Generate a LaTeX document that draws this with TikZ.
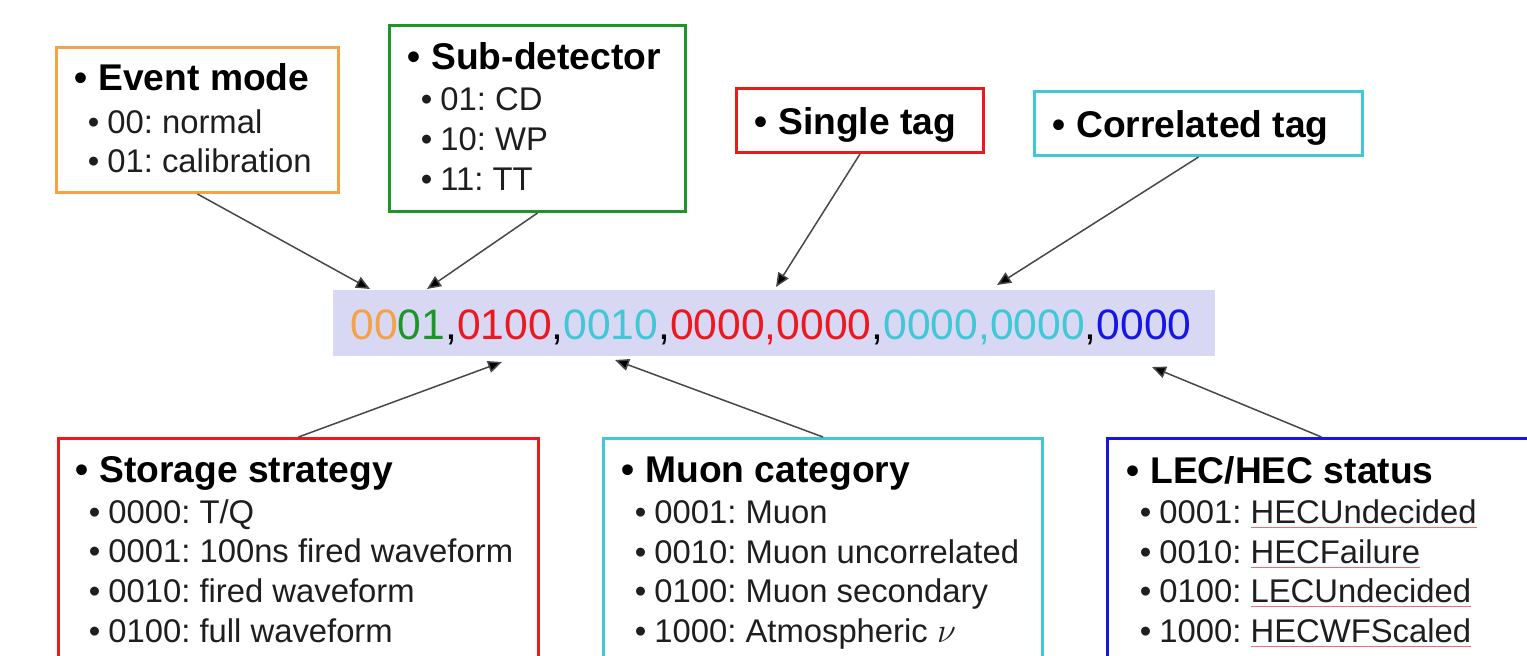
\documentclass[tikz,border=0pt]{standalone}
\usepackage{fontspec}
\setmainfont{Liberation Sans}
\usetikzlibrary{arrows.meta,calc}

\definecolor{evorange}{RGB}{242,162,72}
\definecolor{detgreen}{RGB}{28,150,40}
\definecolor{tagred}{RGB}{236,24,32}
\definecolor{tagcyan}{RGB}{64,200,214}
\definecolor{lecblue}{RGB}{22,22,228}
\definecolor{bandfill}{RGB}{216,216,244}
\definecolor{ink}{RGB}{30,30,30}
\definecolor{spellred}{RGB}{238,110,110}

\frenchspacing
% bullet lines: the bullet hangs to the left of the text start
\newcommand{\ttlline}[1]{\llap{\textbullet\hspace{5.5pt}}#1}
\newcommand{\itmline}[1]{\llap{\textbullet\hspace{4pt}}#1}
% thin red underline under a flagged word
\newcommand{\spellmark}[1]{\setbox0\hbox{#1}%
  \rlap{\textcolor{spellred}{\rule[-2.6pt]{\wd0}{0.6pt}}}\box0}

\begin{document}
\begin{tikzpicture}[x=0.5pt,y=-0.5pt,
  frame/.style={draw=#1, line width=1.5pt, fill=white, inner sep=0pt,
                anchor=north west},
  ttl/.style={anchor=base west, inner sep=0pt,
              font=\fontsize{18.6}{22}\selectfont\bfseries, text=black},
  itm/.style={anchor=base west, inner sep=0pt,
              font=\fontsize{16.4}{20}\selectfont, text=ink},
  link/.style={draw=black!72, line width=0.75pt,
               -{Triangle[length=7pt,width=6pt,fill=black]}},
  bits/.style={anchor=base west, inner sep=0pt,
               font=\fontsize{21.3}{24}\selectfont}]

\useasboundingbox (0,0) rectangle (1527,655);
\clip (0,0) rectangle (1527,655);
\fill[white] (0,0) rectangle (1527,655);

% ---- the code word ----
\node[fill=bandfill, inner sep=0pt, minimum width=441pt, minimum height=33pt,
      anchor=north west] (band) at (333,290) {};
\node[bits] (code) at (350,339) {%
  \textcolor{evorange}{00}\textcolor{detgreen}{01},%
  \textcolor{tagred}{0100},%
  \textcolor{tagcyan}{0010},%
  \textcolor{tagred}{0000,0000},%
  \textcolor{tagcyan}{0000,0000},%
  \textcolor{lecblue}{0000}};

% ---- upper boxes ----
\node[frame=evorange, minimum width=141pt, minimum height=72.5pt] (ev) at (55,46) {};
\node[ttl] (ev-t) at (98,90) {\ttlline{Event mode}};
\node[itm] (ev-1) at (107,133) {\itmline{00: normal}};
\node[itm] (ev-2) at (107,172) {\itmline{01: calibration}};

\node[frame=detgreen, minimum width=148pt, minimum height=93pt] (det) at (388,24) {};
\node[ttl] (det-t) at (431,69) {\ttlline{Sub-detector}};
\node[itm] (det-1) at (440,110) {\itmline{01: CD}};
\node[itm] (det-2) at (440,150) {\itmline{10: WP}};
\node[itm] (det-3) at (440,190) {\itmline{11: TT}};

\node[frame=tagred, minimum width=123.5pt, minimum height=32pt] (single) at (735,87) {};
\node[ttl] (single-t) at (778,134) {\ttlline{Single tag}};

\node[frame=tagcyan, minimum width=164pt, minimum height=32pt] (corr) at (1033,90) {};
\node[ttl] (corr-t) at (1076,137) {\ttlline{Correlated tag}};

% ---- lower boxes (running past the lower edge) ----
\node[frame=tagred, minimum width=240pt, minimum height=125pt] (stor) at (57,437) {};
\node[ttl] (stor-t) at (99,482) {\ttlline{Storage strategy}};
\node[itm] (stor-1) at (108,523) {\itmline{0000: T/Q}};
\node[itm] (stor-2) at (108,562) {\itmline{0001: 100ns fired waveform}};
\node[itm] (stor-3) at (108,602) {\itmline{0010: fired waveform}};
\node[itm] (stor-4) at (108,642) {\itmline{0100: full waveform}};

\node[frame=tagcyan, minimum width=219.5pt, minimum height=125pt] (muon) at (602,437) {};
\node[ttl] (muon-t) at (645,482) {\ttlline{Muon category}};
\node[itm] (muon-1) at (654,523) {\itmline{0001: Muon}};
\node[itm] (muon-2) at (654,563) {\itmline{0010: Muon uncorrelated}};
\node[itm] (muon-3) at (654,602) {\itmline{0100: Muon secondary}};
\node[itm] (muon-4) at (654,642) {\itmline{1000: Atmospheric $\nu$}};

\node[frame=lecblue, minimum width=214pt, minimum height=125pt] (lec) at (1106,437) {};
\node[ttl] (lec-t) at (1150,483) {\ttlline{LEC/HEC status}};
\node[itm] (lec-1) at (1159,523) {\itmline{0001: \spellmark{HECUndecided}}};
\node[itm] (lec-2) at (1159,563) {\itmline{0010: \spellmark{HECFailure}}};
\node[itm] (lec-3) at (1159,602) {\itmline{0100: \spellmark{LECUndecided}}};
\node[itm] (lec-4) at (1159,642) {\itmline{1000: \spellmark{HECWFScaled}}};

% ---- arrow targets on the code word ----
\coordinate (to-ev)     at (370,289);
\coordinate (to-det)    at (427,289);
\coordinate (to-single) at (776,287);
\coordinate (to-corr)   at (997,285);
\coordinate (to-stor)   at (502,362);
\coordinate (to-muon)   at (615,360);
\coordinate (to-lec)    at (1152,367);

\draw[link] (ev.south)     -- (to-ev);
\draw[link] (det.south)    -- (to-det);
\draw[link] (single.south) -- (to-single);
\draw[link] (corr.south)   -- (to-corr);
\draw[link] (stor.north)   -- (to-stor);
\draw[link] (muon.north)   -- (to-muon);
\draw[link] (lec.north)    -- (to-lec);

\end{tikzpicture}
\end{document}
